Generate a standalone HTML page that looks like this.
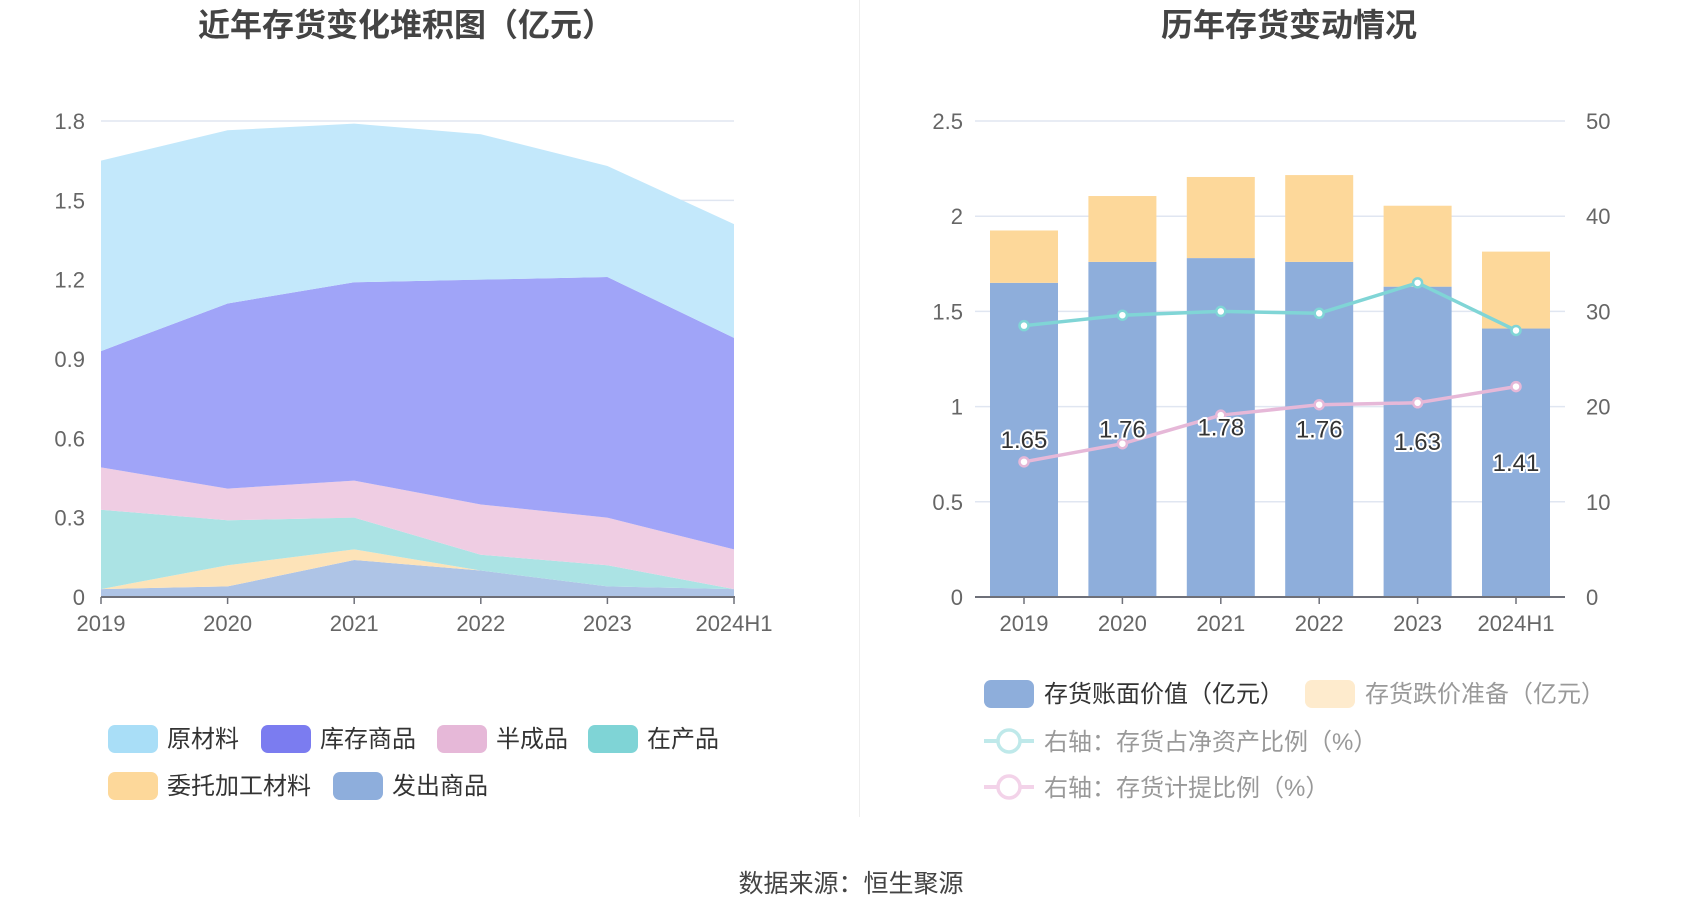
<!DOCTYPE html>
<html><head><meta charset="utf-8"><style>
html,body{margin:0;padding:0;background:#fff;}
svg{display:block;font-family:"Liberation Sans","Noto Sans CJK SC",sans-serif;}
</style></head><body>
<svg id="svg" width="1700" height="918" viewBox="0 0 1700 918" xmlns="http://www.w3.org/2000/svg">
<text x="406" y="36" text-anchor="middle" font-size="32" font-weight="bold" fill="#444">近年存货变化堆积图（亿元）</text>
<text x="1289" y="36" text-anchor="middle" font-size="32" font-weight="bold" fill="#444">历年存货变动情况</text>
<line x1="859.5" y1="0" x2="859.5" y2="817" stroke="#eee" stroke-width="1"/>
<g id="left"></g>
<g id="right"></g>
<g id="legL"></g>
<g id="legR"></g>
<text x="851" y="892" text-anchor="middle" font-size="25" fill="#444">数据来源：恒生聚源</text>
</svg>
<script>
const categories = ["2019","2020","2021","2022","2023","2024H1"];
const areaNames = ["发出商品","委托加工材料","在产品","半成品","库存商品","原材料"];
const shipped = [0.03,0.04,0.14,0.10,0.04,0.03];
const consigned = [0,0.08,0.04,0,0,0];
const wip = [0.30,0.17,0.12,0.06,0.08,0];
const semi = [0.16,0.12,0.14,0.19,0.18,0.15];
const goods = [0.44,0.70,0.75,0.85,0.91,0.80];
const raw = [0.72,0.655,0.60,0.55,0.42,0.43];
const leftTicks = ["0","0.3","0.6","0.9","1.2","1.5","1.8"];
const bookValue = [1.65,1.76,1.78,1.76,1.63,1.41];
const provision = [0.275,0.346,0.426,0.456,0.425,0.404];
const ratioNet = [28.5,29.6,30.0,29.8,33.0,28.0];
const ratioProv = [14.2,16.1,19.1,20.2,20.4,22.1];
const rightTicksL = ["0","0.5","1","1.5","2","2.5"];
const rightTicksR = ["0","10","20","30","40","50"];

const NS="http://www.w3.org/2000/svg";
function mk(parent,tag,attrs,text){const e=document.createElementNS(NS,tag);for(const k in attrs)e.setAttribute(k,attrs[k]);if(text!==undefined)e.textContent=text;parent.appendChild(e);return e;}
const Y0=597,Y1=121;
const L=document.getElementById('left');
const lx=i=>101+i*(734-101)/(categories.length-1);
const ly=v=>Y0-v/1.8*(Y0-Y1);
leftTicks.forEach((t,i)=>{const v=parseFloat(t);const y=ly(v);
  const g=mk(L,'line',{x1:101,x2:734,y1:y,y2:y,stroke:'#e0e6f1','stroke-width':1.5});
  
  
  const tx=mk(L,'text',{x:85,y:y+8,'text-anchor':'end','font-size':22,fill:'#666'},t);
  
  
});
const series=[shipped,consigned,wip,semi,goods,raw];
const colors=['#aec4e6','#fde3b8','#abe3e4','#efcde3','#a0a4f8','#c3e8fb'];
const legColors=['#8eaedc','#fdd89a','#7fd4d6','#e6b8d8','#7b7cf0','#a9def7'];
let cum=categories.map(()=>0);
series.forEach((s,k)=>{
  const lower=cum.slice();cum=cum.map((c,i)=>c+s[i]);
  let d='';cum.forEach((c,i)=>{d+=(i?'L':'M')+lx(i)+','+ly(c);});
  for(let i=lower.length-1;i>=0;i--)d+='L'+lx(i)+','+ly(lower[i]);
  const p=mk(L,'path',{d:d+'Z',fill:colors[k]});
  
  
});
mk(L,'line',{x1:101,x2:735,y1:Y0,y2:Y0,stroke:'#6e7079','stroke-width':2});
categories.forEach((c,i)=>{
  mk(L,'line',{x1:lx(i),x2:lx(i),y1:Y0,y2:Y0+7,stroke:'#6e7079','stroke-width':1.5});
  const t=mk(L,'text',{x:lx(i),y:631,'text-anchor':'middle','font-size':22,fill:'#666'},c);
  
  
});
const LL=document.getElementById('legL');
const legItems=[["原材料",108,739],["库存商品",261,739],["半成品",437,739],["在产品",588,739],["委托加工材料",108,786],["发出商品",333,786]];
const legIdx=[5,4,3,2,1,0];
legItems.forEach((it,j)=>{
  const g=mk(LL,'g',{});
  
  
  mk(g,'rect',{x:it[1],y:it[2]-14,width:50,height:28,rx:7,fill:legColors[legIdx[j]]});
  mk(g,'text',{x:it[1]+59,y:it[2]+8,'font-size':24,fill:'#333'},it[0]);
});
const R=document.getElementById('right');
const rx=i=>1024+i*(1516-1024)/(categories.length-1);
const ry=v=>Y0-v/2.5*(Y0-Y1);
const ry2=v=>Y0-v/50*(Y0-Y1);
rightTicksL.forEach((t,i)=>{const y=ry(parseFloat(t));
  const g=mk(R,'line',{x1:975,x2:1565,y1:y,y2:y,stroke:'#e0e6f1','stroke-width':1.5});
  
  
  const a=mk(R,'text',{x:963,y:y+8,'text-anchor':'end','font-size':22,fill:'#666'},t);
  
  
  const b=mk(R,'text',{x:1586,y:y+8,'font-size':22,fill:'#666'},rightTicksR[i]);
  
  
});
const bw=68;
categories.forEach((c,i)=>{
  const b1=mk(R,'rect',{x:rx(i)-bw/2,y:ry(bookValue[i]),width:bw,height:Y0-ry(bookValue[i]),fill:'#8eaedb'});
  
  
  const top=bookValue[i]+provision[i];
  const b2=mk(R,'rect',{x:rx(i)-bw/2,y:ry(top),width:bw,height:ry(bookValue[i])-ry(top),fill:'#fdd89a'});
  
  
});
mk(R,'line',{x1:975,x2:1565,y1:Y0,y2:Y0,stroke:'#6e7079','stroke-width':2});
categories.forEach((c,i)=>{
  mk(R,'line',{x1:rx(i),x2:rx(i),y1:Y0,y2:Y0+7,stroke:'#6e7079','stroke-width':1.5});
  const t=mk(R,'text',{x:rx(i),y:631,'text-anchor':'middle','font-size':22,fill:'#666'},c);
  
  
});
function line(arr,col,name){
  const pts=arr.map((v,i)=>rx(i)+','+ry2(v)).join(' ');
  const pl=mk(R,'polyline',{points:pts,fill:'none',stroke:col,'stroke-width':3.5});
  
  
  arr.forEach((v,i)=>{const c=mk(R,'circle',{cx:rx(i),cy:ry2(v),r:4.5,fill:'#fff',stroke:col,'stroke-width':2.5});
    
    });
}
line(ratioNet,'#80d5d6','line-net-asset-ratio');
line(ratioProv,'#e6b8d8','line-provision-ratio');
bookValue.forEach((v,i)=>{
  const t=mk(R,'text',{x:rx(i),y:(ry(v)+Y0)/2+8,'text-anchor':'middle','font-size':24,fill:'#333',stroke:'#fff','stroke-width':4,'paint-order':'stroke','stroke-linejoin':'round'},v.toFixed(2));
  
  
});
const LR=document.getElementById('legR');
const r1=mk(LR,'g',{});


mk(r1,'rect',{x:984,y:680,width:50,height:28,rx:7,fill:'#8eaedb'});
mk(r1,'text',{x:1044,y:702,'font-size':24,fill:'#333'},'存货账面价值（亿元）');
const r2=mk(LR,'g',{});


mk(r2,'rect',{x:1305,y:680,width:50,height:28,rx:7,fill:'#feebcd'});
mk(r2,'text',{x:1365,y:702,'font-size':24,fill:'#999'},'存货跌价准备（亿元）');
[['#bfe9ea','右轴：存货占净资产比例（%）',741,'legend-net-asset-ratio'],['#f3d3e9','右轴：存货计提比例（%）',787,'legend-provision-ratio']].forEach(a=>{
  const g=mk(LR,'g',{});
  
  
  mk(g,'line',{x1:984,x2:1034,y1:a[2],y2:a[2],stroke:a[0],'stroke-width':4});
  mk(g,'circle',{cx:1009,cy:a[2],r:11,fill:'#fff',stroke:a[0],'stroke-width':3.5});
  mk(g,'text',{x:1044,y:a[2]+9,'font-size':24,fill:'#999'},a[1]);
});
</script>
</body></html>
